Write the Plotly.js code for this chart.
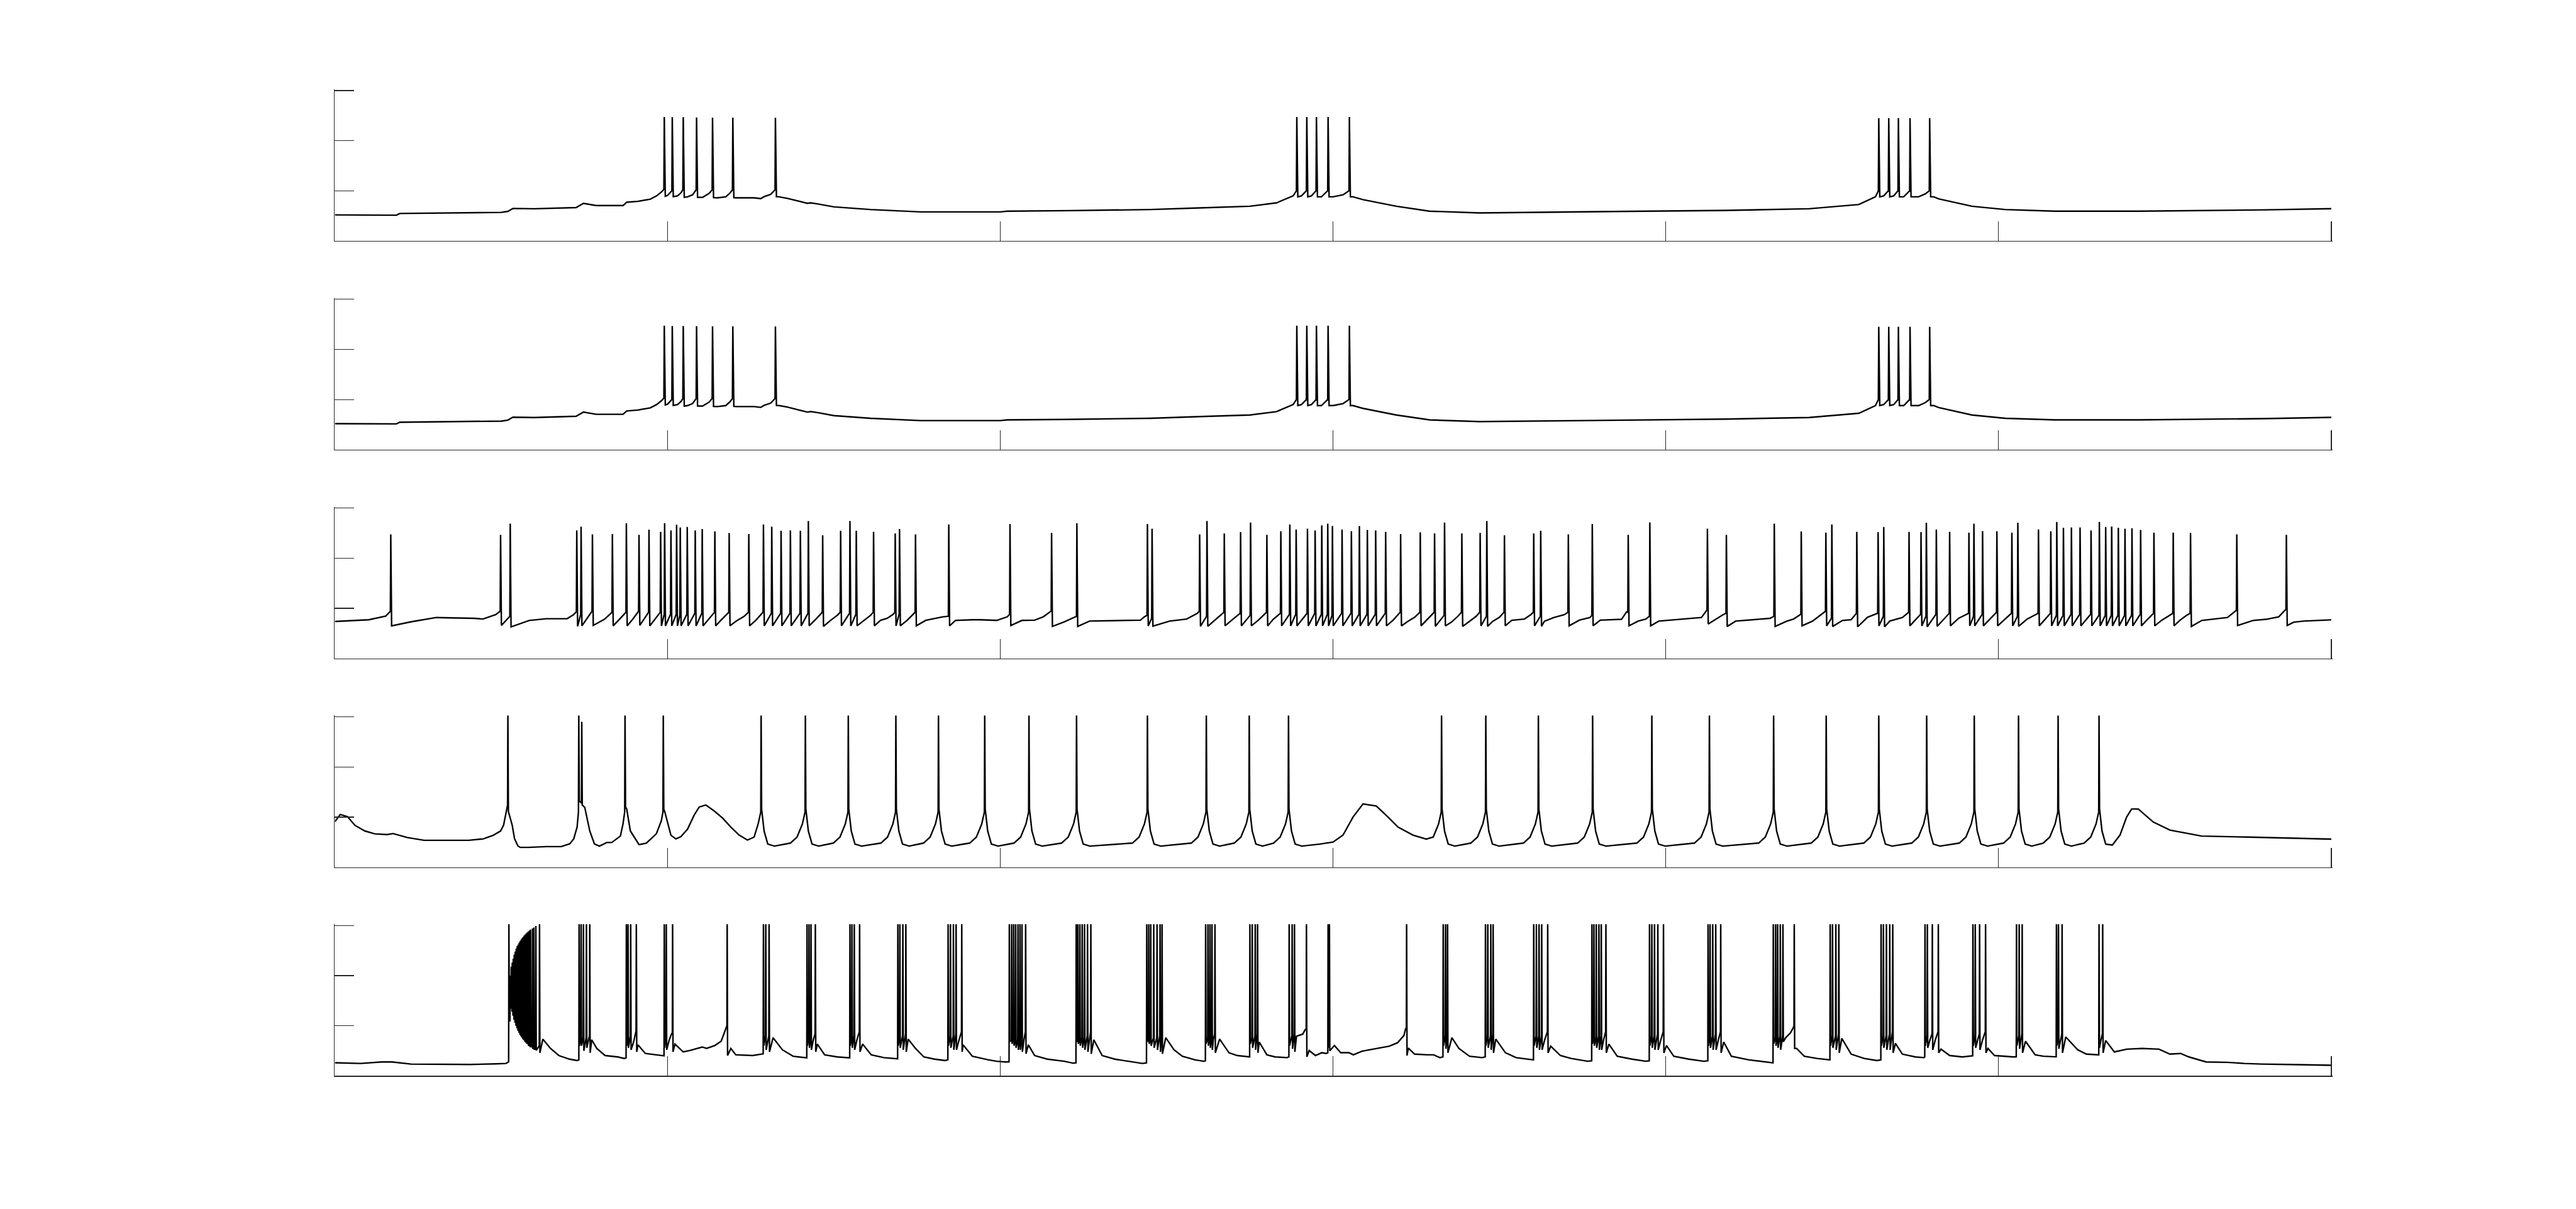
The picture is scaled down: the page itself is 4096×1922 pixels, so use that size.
<!DOCTYPE html>
<html>
<head>
<meta charset="utf-8">
<script src="https://cdn.plot.ly/plotly-3.0.1.min.js"></script>
<style>html,body{margin:0;padding:0;background:#fff;}#chart{width:4096px;height:1922px;}</style>
</head>
<body>
<div id="chart"></div>
<script>
// Time axis (s) and voltage axis (mV) ticks
const xTicks = [0, 10, 20, 30, 40, 50, 60];
const yTicks = [-100, -50, 0, 50];

// ---------- Panel 1 : subthreshold knots [t, v] and spikes [t, foot, peak, trough]
const base1 = [[0,-74],[1.36,-74],[1.85,-74.3],[1.95,-72.6],[3.0,-72.1],[5.0,-71.5],[5.2,-70.5],[5.35,-67.6],[6.0,-67.9],[7.25,-66.7],[7.47,-62.5],[7.85,-64.7],[8.66,-64.7],[8.77,-61.4],[9.1,-60.5],[9.48,-58.3],[9.67,-55],[9.82,-51],
[10.0,-54.5],[10.3,-55],[10.4,-52],[10.6,-56],[10.75,-54],[11.05,-56.5],[11.25,-52.5],[11.5,-57],[11.75,-56],[11.88,-52],[12.05,-57],[12.6,-57],[12.8,-57.8],[12.9,-55.8],[13.1,-53.5],[13.2,-50],
[13.35,-56],[13.6,-57.5],[14.2,-62.5],[14.3,-62],[14.5,-63],[15.0,-66],[16.1,-68.7],[17.6,-71],[20.0,-71],[20.2,-70.3],[22,-69.8],[24.5,-68.7],[26,-67],[27.5,-65.4],[28.3,-62],[28.8,-55],
[29.05,-55],[29.35,-55],[29.65,-56],[30.0,-56],[30.3,-54],
[30.6,-56],[30.9,-58.8],[31.9,-65.4],[32.9,-70.3],[34.4,-72],[36.9,-71],[39.3,-70.3],[41.8,-69.5],[44.3,-67.9],[45.8,-63.7],[46.3,-56],
[46.55,-55],[46.85,-55],[47.15,-56],[47.6,-56],[47.8,-53],
[48.05,-56],[48.2,-58],[49.2,-65.4],[50.2,-68.7],[51.7,-70.3],[54.2,-70.3],[56.6,-69.5],[58,-69],[60,-67.8]];
const spikes1 = [[9.90,-48.5,23.6,-55.4],[10.14,-50,23.4,-55.8],[10.47,-49,23.4,-56.5],[10.87,-49,23.2,-56.5],[11.35,-49,23.0,-56.8],[11.96,-49,23.0,-56.8],[13.24,-49,22.9,-55.8],
[28.91,-50,23.6,-56],[29.21,-50,23.6,-56],[29.50,-50,23.6,-56],[29.85,-50,23.6,-56],[30.49,-50,23.6,-56],
[46.40,-50,22.5,-56],[46.70,-50,22.5,-56],[46.99,-50,22.5,-56],[47.34,-50,22.5,-56],[47.93,-50,22.5,-56]];

// ---------- Panel 2 (same recording shape as panel 1)
const base2 = base1;
const spikes2 = spikes1;

// ---------- Panel 3
const base3 = [[0,-63.2],[1.02,-61.4],[1.53,-57.8],
[2.29,-63.5],[3.05,-59.2],[4.19,-60],[4.45,-60.7],[4.83,-56.4],
[5.84,-62.1],[6.35,-60.4],[6.98,-60.4],[7.17,-56.4],
[8.1,-61],[8.55,-61],[8.95,-61],
[11.6,-62],[12.05,-63],[12.3,-58],[12.65,-62],
[14.45,-61],[14.9,-62],[15.1,-57],[15.9,-62],[16.1,-57],[16.4,-62],[16.6,-60],[16.78,-56],[17.2,-62],
[17.76,-62],[17.89,-61],[18.02,-60],[18.27,-58.5],
[18.65,-62.1],[19.16,-61.4],[19.39,-61.4],[19.89,-62.1],[20.21,-58.5],
[20.65,-62.1],[21.03,-61.8],[21.29,-58.5],
[21.92,-63.5],
[22.68,-62.8],[24.21,-61.8],[24.33,-58.5],
[25.09,-62.8],[25.6,-60.7],[25.92,-55],
[26.45,-62],[26.95,-62],[27.75,-62],[28.2,-61],
[31.8,-62],[32.25,-63],[32.45,-59],[32.8,-62],
[33.55,-64],[33.75,-58],[34.1,-63],[34.3,-58],[34.8,-63],[35.0,-59],
[35.37,-62],[35.75,-60.7],[35.94,-56.4],
[36.35,-63],[36.64,-59.2],[36.95,-56.4],
[37.4,-61.8],[37.72,-59.2],
[38.03,-61.8],[38.67,-61],[38.82,-53.5],
[39.17,-62.8],[39.4,-60.7],
[39.79,-62.8],[40.56,-60.7],[41.07,-59.2],[41.23,-52.1],
[41.72,-56.4],
[42.1,-62.8],[43.13,-60],
[43.64,-62.8],[43.84,-60.7],
[44.41,-62.8],[44.77,-53.5],
[45.31,-62.1],[45.57,-61.4],[45.7,-56.4],
[46.06,-59],
[46.73,-62.8],[47.11,-59.2],
[48.8,-60],
[50.85,-61],
[54.45,-62],[54.9,-62],[55.1,-58],[55.45,-62],[55.65,-57],
[56.11,-62.1],[56.88,-59.2],[57.11,-53.2],
[57.65,-62.1],[58.04,-61],[58.42,-58.5],[58.61,-51.4],
[58.87,-63.9],[59.17,-62.8],[60,-61.5]];
const spikes3 = [[1.68,-53,23.7,-67.5],[4.98,-53,23.3,-67.1],[5.27,-58,34.4,-68.5],[7.27,-53.5,27.7,-68],[7.40,-56,31.4,-67.5],[7.74,-53,23.7,-67.1],[8.34,-54,24.1,-67.5],[8.76,-54,34.8,-67.5],[9.14,-53,23.3,-67],[9.44,-54,28.4,-67.5],
[9.79,-54,26.3,-67.5],[9.91,-56,34.8,-67.5],[10.10,-56,27.7,-67.5],[10.27,-56,33.3,-67.5],[10.38,-57,30.7,-67.5],[10.59,-56,31.1,-67.5],[10.83,-55,27.7,-67.5],[11.04,-55,29.0,-67.5],[11.42,-54,26.7,-67.5],[11.85,-54,25.1,-67.5],
[12.44,-54,24.1,-67.5],[12.88,-54,33.6,-67.5],[13.13,-55,31.4,-67.5],[13.41,-55,27.3,-67.5],[13.69,-55,27.7,-67.5],[13.99,-55,27.3,-67.5],[14.23,-55,37.0,-67.5],[14.66,-54,22.8,-68],[15.20,-54,27.3,-67.5],[15.48,-55,37.0,-67.5],
[15.67,-56,27.3,-67.5],[16.19,-54,26.3,-67.5],[16.84,-54,24.7,-67.5],[16.97,-56,29.0,-67.5],[17.45,-54,23.7,-67.5],[18.45,-58,33.6,-67.5],
[20.29,-56,34.0,-67.1],[21.54,-52.8,25.1,-68.1],[22.30,-58,34.8,-68.1],[24.42,-57,34.0,-67.5],[24.56,-60,29.4,-67.8],[25.99,-53,23.7,-68],[26.21,-58,37.0,-68],[26.73,-54,24.7,-67.5],[27.22,-55,26.0,-67.5],[27.52,-57,35.5,-67.5],
[28.01,-54,23.3,-67.5],[28.43,-55,26.8,-67.5],[28.70,-56,33.6,-67.5],[28.89,-56,28.6,-67.5],[29.23,-55,29.4,-67.5],[29.46,-55,27.7,-67.5],[29.66,-56,32.7,-67.5],[29.84,-56,34.4,-67.5],[29.98,-57,32.0,-67.5],[30.27,-55,28.6,-67.5],
[30.55,-55,26.8,-67.5],[30.79,-56,32.0,-67.5],[31.03,-56,28.1,-67.5],[31.28,-56,27.7,-67.5],[31.58,-55,26.3,-67.5],[32.03,-54,24.1,-67.5],[32.62,-54,25.8,-67.5],[33.05,-54,24.7,-68],[33.35,-57,35.5,-67.5],[33.87,-54,24.7,-68],
[34.42,-54,25.1,-67.5],[34.62,-58,37.0,-68],[35.15,-54,22.8,-67.5],[36.03,-54,24.7,-67.5],[36.24,-58,27.3,-68],[37.07,-54,23.7,-67.5],[37.79,-57,34.0,-67.5],[38.87,-54,23.3,-67.5],
[39.52,-58,35.7,-67.5],[41.25,-52,29.4,-65.7],[41.82,-55,23.3,-68.1],[43.26,-58,34.4,-68.1],[44.07,-56,26.7,-67.5],[44.81,-53,25.4,-67.5],[44.99,-60,33.6,-68.1],[45.74,-55,26.3,-68.5],[46.38,-55,26.0,-67.5],[46.55,-58,31.1,-68.5],
[47.31,-54,26.3,-67.5],[47.67,-56,26.0,-67.5],[47.83,-58,35.3,-68.5],[48.13,-56,28.6,-68],[48.53,-55,26.3,-67.5],[49.11,-55,25.5,-67.5],[49.26,-58,34.4,-67.5],[49.52,-56,27.0,-67.5],[49.95,-54,26.8,-67.5],[50.40,-55,25.5,-67.5],
[50.58,-58,35.3,-68],[51.20,-55,28.6,-67.5],[51.57,-55,26.8,-67.5],[51.75,-57,36.1,-67.5],[51.95,-57,30.3,-67.5],[52.19,-56,30.7,-67.5],[52.45,-56,30.7,-67.5],[52.78,-56,27.7,-67.5],[53.03,-57,36.1,-67.5],[53.22,-57,31.1,-67.5],
[53.40,-57,31.6,-67.5],[53.60,-57,30.3,-67.5],[53.80,-57,29.4,-67.5],[54.01,-57,29.8,-67.5],[54.27,-56,28.1,-67.5],[54.67,-55,25.4,-67.5],[55.25,-55,25.4,-67.5],[55.77,-55,25.1,-68.1],[57.16,-52,23.7,-67.1],[58.65,-51,23.3,-67.1]];

// ---------- Panel 4
const base4 = [[0,-54.7],[0.16,-47.5],[0.38,-49.6],[0.6,-58.2],[0.9,-63.9],[1.2,-66.8],[1.57,-67.5],[1.75,-66.5],[2.17,-70.4],[2.68,-73.2],[4.02,-73.2],[4.46,-71.8],[4.76,-68.2],[4.98,-63.9],[5.07,-58.2],[5.13,-48],
[5.33,-58.2],[5.4,-71.7],[5.5,-78.8],[5.57,-80.3],[5.82,-80.3],[6.35,-79.5],[6.8,-79.5],[7.06,-76.7],[7.18,-71.7],[7.28,-60],
[7.51,-40.4],[7.66,-63.9],[7.8,-76.8],[7.95,-79],[8.17,-75.4],[8.32,-75.4],[8.58,-69],[8.66,-56.8],
[8.77,-41.9],[8.88,-63.9],[9.14,-77.5],[9.36,-76.1],[9.66,-66.8],[9.81,-54],
[9.92,-45.4],[10.1,-68.2],[10.25,-71.8],[10.4,-69.6],
[10.6,-62],[10.8,-48],[10.95,-40],[11.15,-38],[11.4,-44],[11.65,-51],[11.9,-60],[12.15,-68],[12.4,-73],[12.6,-70],[12.72,-57],
[12.9,-64],[13.01,-77],[13.21,-79],
[13.69,-76],[13.89,-70],[14.05,-57],[14.23,-64],[14.34,-77],[14.54,-79],
[14.98,-76],[15.18,-70],[15.34,-57],[15.52,-64],[15.63,-77],[15.83,-79],
[16.41,-76],[16.61,-70],[16.77,-57],[16.95,-64],[17.06,-77],[17.26,-79],
[17.69,-76],[17.89,-70],[18.05,-57],[18.23,-64],[18.34,-77],[18.54,-79],
[19.08,-76],[19.28,-70],[19.44,-57],[19.62,-64],[19.73,-77],[19.93,-79],
[20.41,-76],[20.61,-70],[20.77,-57],[20.95,-64],[21.06,-77],[21.26,-79],
[21.84,-76],[22.04,-70],[22.20,-57],[22.38,-64],[22.49,-77],[22.69,-79],
[23.97,-76],[24.17,-70],[24.33,-57],[24.51,-64],[24.62,-77],[24.82,-79],
[25.74,-76],[25.94,-70],[26.10,-57],[26.28,-64],[26.39,-77],[26.59,-79],
[27.03,-76],[27.23,-70],[27.39,-57],[27.57,-64],[27.68,-77],[27.88,-79],
[28.21,-76],[28.41,-70],[28.57,-57],[28.75,-64],[28.86,-77],[29.06,-79],
[29.6,-77],[30.0,-75],[30.3,-68],[30.6,-50],[30.9,-37],[31.3,-39],[31.65,-50],[31.95,-60],[32.4,-68],[32.8,-72],
[33.01,-70],[33.17,-57],[33.35,-64],[33.46,-77],[33.66,-79],
[34.14,-76],[34.34,-70],[34.50,-57],[34.68,-64],[34.79,-77],[34.99,-79],
[35.72,-76],[35.92,-70],[36.08,-57],[36.26,-64],[36.37,-77],[36.57,-79],
[37.35,-76],[37.55,-70],[37.71,-57],[37.89,-64],[38.00,-77],[38.20,-79],
[39.13,-76],[39.33,-70],[39.49,-57],[39.67,-64],[39.78,-77],[39.98,-79],
[40.86,-76],[41.06,-70],[41.22,-57],[41.40,-64],[41.51,-77],[41.71,-79],
[42.79,-76],[42.99,-70],[43.15,-57],[43.33,-64],[43.44,-77],[43.64,-79],
[44.37,-76],[44.57,-70],[44.73,-57],[44.91,-64],[45.02,-77],[45.22,-79],
[45.95,-76],[46.15,-70],[46.31,-57],[46.49,-64],[46.60,-77],[46.80,-79],
[47.39,-76],[47.59,-70],[47.75,-57],[47.93,-64],[48.04,-77],[48.24,-79],
[48.82,-76],[49.02,-70],[49.18,-57],[49.36,-64],[49.47,-77],[49.67,-79],
[50.15,-76],[50.35,-70],[50.51,-57],[50.69,-64],[50.80,-77],[51.00,-79],
[51.34,-76],[51.54,-70],[51.70,-57],[51.88,-64],[51.99,-77],[52.19,-79],
[52.57,-76],[52.77,-70],[52.93,-57],[53.11,-64],[53.22,-77],[53.42,-78],
[53.65,-68],[53.85,-50],[54.0,-42],[54.2,-42],[54.65,-55],[55.15,-63],[56.1,-69],[57.5,-70],[59,-71],[60,-72]];
const spikes4 = [[5.20,-38,55,-44.5],[7.33,-45,55,-34],[7.42,-36,45,-38],[8.72,-45,55,-40],[9.87,-45,55,-42],[12.81,-45,55,-42],[14.14,-45,55,-42],[15.43,-45,55,-42],[16.86,-45,55,-42],[18.14,-45,55,-42],
[19.53,-45,55,-42],[20.86,-45,55,-42],[22.29,-45,55,-42],[24.42,-45,55,-42],[26.19,-45,55,-42],[27.48,-45,55,-42],[28.66,-45,55,-42],[33.26,-45,55,-42],[34.59,-45,55,-42],[36.17,-45,55,-42],
[37.80,-45,55,-42],[39.58,-45,55,-42],[41.31,-45,55,-42],[43.24,-45,55,-42],[44.82,-45,55,-42],[46.40,-45,55,-42],[47.84,-45,55,-42],[49.27,-45,55,-42],[50.60,-45,55,-42],[51.79,-45,55,-42],[53.02,-45,55,-42]];

// ---------- Panel 5
const base5 = [[0,-86.9],[0.77,-87.6],[1.4,-86.1],[1.72,-86.1],[2.29,-88.2],[3.3,-88.6],[4.07,-88.6],[4.83,-88],[5.14,-87.6],
[6.25,-63.3],[6.48,-72.6],[6.73,-79.7],[7.05,-83.3],[7.28,-84.7],
[7.72,-64],[7.87,-72.6],[8.12,-79.7],[8.5,-81.1],[8.7,-82.6],
[8.98,-66],[9.04,-56],
[9.11,-69],[9.33,-77.6],[9.65,-79],[9.84,-79.7],
[10.05,-64],[10.12,-58],
[10.22,-68.3],[10.47,-76.1],[10.66,-74.7],[11.04,-71.2],[11.17,-72.6],[11.42,-69.7],[11.61,-65.4],[11.74,-54],
[11.9,-72.6],[12.05,-79],[12.56,-79.7],[12.82,-78.3],
[13.17,-61.9],[13.45,-74],[13.77,-80.4],[14.09,-81.8],
[14.38,-64],
[14.5,-68.3],[14.72,-79],[15.1,-81.1],[15.42,-81.8],
[15.69,-64],
[15.86,-68.3],[16.12,-79],[16.5,-81.8],[16.81,-82.6],
[17.23,-63.3],[17.45,-72.6],[17.7,-81.1],[18.02,-83.3],[18.34,-84.7],
[18.76,-64],
[18.88,-69],[19.16,-80.4],[19.64,-84],[19.89,-85.4],[20.15,-86.1],
[20.71,-64],
[20.84,-69],[21.03,-79.7],[21.41,-83.3],[21.92,-85.4],[22.18,-87.3],
[22.81,-64],[23.06,-79.7],[23.44,-83.3],[23.95,-86.1],[24.27,-87.6],
[24.97,-61.9],[25.22,-74],[25.47,-80.4],[25.85,-84],[26.11,-85.4],
[26.40,-64],
[26.59,-63.3],[26.87,-76.9],[27.12,-79.7],[27.44,-81.1],
[27.78,-66.2],[28.01,-79],[28.26,-81.1],[28.62,-81.8],
[28.9,-60.4],[29.09,-58.3],[29.16,-54],
[29.28,-74.7],[29.47,-79.7],[29.66,-76.9],[29.79,-77.6],
[30.04,-69.7],[30.23,-76.9],[30.48,-76.9],[30.61,-79],[30.87,-75.4],[31.31,-72.6],[31.69,-70.4],[31.94,-66.9],[32.13,-59.7],[32.18,-53],
[32.26,-72.3],[32.45,-78.3],[32.83,-79],[33.02,-79],[33.21,-81.8],
[33.57,-61.9],[33.78,-72.6],[34.1,-80.4],[34.48,-81.8],
[34.89,-63.3],[35.18,-76.9],[35.5,-81.8],[35.94,-84],
[36.36,-64],
[36.54,-70.4],[36.83,-79.7],[37.15,-82.6],[37.65,-85.4],
[38.13,-64],
[38.29,-68.3],[38.54,-80.4],[38.98,-83.3],[39.28,-84.7],[39.4,-85.4],
[39.85,-64],
[40.02,-69.7],[40.24,-80.4],[40.69,-83.3],[41.14,-85.4],
[41.58,-64],
[41.74,-66.2],[41.97,-80.4],[42.49,-84],[43.13,-86.9],
[43.6,-62],[43.75,-57],[43.83,-52],
[43.93,-72.6],[44.16,-80.4],[44.54,-82.6],[44.86,-84],
[45.29,-62.6],[45.57,-78.3],[45.96,-82.6],[46.34,-84.7],
[46.9,-67.6],[47.11,-78.3],[47.5,-81.1],[47.76,-81.8],
[47.94,-64],[48.10,-64],
[48.27,-73.3],[48.53,-79.7],[48.91,-81.1],[49.17,-80.4],
[49.37,-64],[49.52,-64],
[49.68,-72.6],[49.88,-79.7],[50.45,-81.1],
[50.81,-65.4],[51.1,-79],[51.35,-80.4],[51.68,-81.1],
[52.02,-61.2],[52.38,-74],[52.64,-78.3],[52.9,-79],
[53.08,-64],
[53.22,-64.7],[53.48,-76.1],[53.86,-73.3],[54.31,-72.6],[54.82,-73.3],[55.15,-78.3],[55.47,-77.6],[55.72,-81.1],[56.24,-86.1],[56.88,-86.5],[57.39,-87.6],[57.91,-88.2],[58.68,-88.6],[59.17,-89],[60,-89.4]];
const spikes5 = [[5.23,-86,55,-45],
[5.27,-45,0,-33],[5.30,-33,9,-36],[5.33,-36,13,-40],[5.36,-40,17,-44],[5.39,-44,21,-47],[5.42,-47,24,-50],[5.45,-50,27,-52.5],[5.48,-52.5,29.5,-55],[5.51,-55,31,-57],[5.54,-57,33,-59],[5.57,-59,34.5,-60.5],[5.60,-60.5,36,-62],[5.63,-62,37.5,-63.5],[5.66,-63.5,38.5,-64.5],[5.69,-64.5,40,-66],[5.72,-66,41,-67],[5.75,-67,42,-68],[5.78,-68,43,-68.5],[5.81,-68.5,44,-69.5],[5.85,-69.5,45,-70.5],[5.88,-70.5,46,-71],[5.94,-71,47,-72.5],[5.98,-72.5,48,-73.5],[6.04,-73.5,49.5,-74.5],[6.15,-70,55,-77],
[7.34,-84,55,-70],[7.40,-62,55,-70],[7.47,-62,55,-75],[7.56,-62,55,-72],[7.66,-60,55,-77],
[8.76,-82,55,-70],[8.81,-62,55,-72],[8.89,-60,55,-74],[9.06,-55,55,-76],
[9.90,-80,55,-72],[9.96,-60,55,-74],[10.15,-57,55,-76],
[11.79,-50,55,-79.7],
[12.88,-78,55,-70],[12.95,-60,55,-74],[13.05,-60,55,-76],
[14.19,-82,55,-70],[14.25,-60,55,-72],[14.31,-60,55,-74],[14.44,-58,55,-76],
[15.48,-82,55,-70],[15.54,-60,55,-72],[15.61,-60,55,-74],[15.77,-56,55,-76],
[16.92,-83,55,-70],[16.98,-60,55,-72],[17.07,-60,55,-74],[17.16,-58,55,-76],
[18.43,-84,55,-70],[18.50,-60,55,-72],[18.59,-60,55,-74],[18.67,-58,55,-74],[18.84,-56,55,-76],
[20.27,-86,55,-66],[20.34,-64,52,-68],[20.40,-64,52,-70],[20.46,-64,52,-72],[20.53,-64,52,-74],[20.59,-62,52,-74],[20.65,-60,55,-76],[20.76,-56,55,-78],
[22.28,-87,55,-66],[22.33,-64,52,-68],[22.39,-64,52,-70],[22.46,-62,52,-72],[22.53,-62,55,-74],[22.62,-60,55,-76],[22.72,-56,55,-78],
[24.40,-87,55,-66],[24.46,-64,52,-68],[24.52,-64,52,-70],[24.61,-62,52,-72],[24.71,-62,55,-74],[24.80,-60,55,-76],[24.86,-58,55,-78],
[26.17,-85,55,-68],[26.24,-62,55,-70],[26.30,-62,55,-72],[26.36,-60,55,-74],[26.45,-58,55,-77],
[27.50,-81,55,-68],[27.57,-62,55,-72],[27.66,-60,55,-74],[27.73,-58,55,-77],
[28.68,-81,55,-70],[28.77,-60,55,-73],[28.84,-58,55,-76],
[29.20,-53,55,-81],
[29.85,-77,55,-72],[29.89,-62,55,-75],
[32.21,-53,55,-79.7],
[33.31,-81,55,-70],[33.38,-60,55,-73],[33.44,-58,55,-77],
[34.58,-81,55,-70],[34.65,-60,55,-72],[34.74,-60,55,-74],[34.81,-58,55,-77],
[36.03,-84,55,-70],[36.11,-60,55,-72],[36.19,-60,55,-74],[36.27,-60,55,-74],[36.45,-56,55,-77],
[37.78,-85,55,-68],[37.84,-62,55,-70],[37.91,-62,55,-72],[37.99,-60,55,-74],[38.06,-60,55,-74],[38.20,-56,55,-77],
[39.51,-85,55,-70],[39.58,-60,55,-72],[39.66,-60,55,-74],[39.76,-58,55,-74],[39.93,-56,55,-77],
[41.27,-85,55,-70],[41.33,-60,55,-72],[41.41,-60,55,-74],[41.50,-58,55,-74],[41.65,-56,55,-77],
[43.23,-87,55,-68],[43.30,-62,55,-70],[43.36,-62,55,-72],[43.44,-60,55,-74],[43.52,-60,55,-66],[43.86,-50,55,-72.6],
[44.94,-84,55,-70],[45.01,-60,55,-72],[45.11,-60,55,-74],[45.20,-58,55,-77],
[46.47,-84,55,-70],[46.54,-60,55,-72],[46.63,-60,55,-74],[46.73,-58,55,-74],[46.82,-56,55,-77],
[47.79,-81,55,-70],[47.86,-60,55,-72],[48.01,-58,55,-74],[48.19,-56,55,-77],
[49.23,-80,55,-70],[49.30,-60,55,-72],[49.43,-58,55,-74],[49.61,-56,55,-77],
[50.54,-81,55,-70],[50.62,-60,55,-73],[50.71,-58,55,-77],
[51.74,-81,55,-70],[51.80,-60,55,-73],[51.91,-58,55,-77],
[53.02,-79,55,-72],[53.13,-58,55,-77]];

// Merge knots and spikes into one polyline (spike = foot just before, peak, trough just after)
function buildTrace(base, spikes, pre, post) {
  const pts = base.map(p => [p[0], p[1]]);
  spikes.forEach(s => {
    pts.push([s[0] - pre, s[1]]);
    pts.push([s[0], s[2]]);
    pts.push([s[0] + post, s[3]]);
  });
  pts.sort((a, b) => a[0] - b[0]);
  return {x: pts.map(p => p[0]), y: pts.map(p => p[1])};
}

const panels = [
  buildTrace(base1, spikes1, 0.012, 0.03),
  buildTrace(base2, spikes2, 0.012, 0.03),
  buildTrace(base3, spikes3, 0.012, 0.025),
  buildTrace(base4, spikes4, 0.01, 0.015),
  buildTrace(base5, spikes5, 0.008, 0.012)
];

const axisColor = '#262626';
const data = [];
const layout = {
  width: 4096, height: 1922,
  margin: {l: 0, r: 0, t: 0, b: 0},
  paper_bgcolor: '#ffffff', plot_bgcolor: '#ffffff',
  showlegend: false
};
// Panel geometry (fractions of the figure); axes are stretched by ~2 px at the far ends
// so that Plotly keeps the end ticks (it drops ticks within 1 px of an axis end).
const top0 = 0.9251, step = 0.17265, h = 0.1244;
const xL = 0.13, xW = 0.775, ext = 0.04, eyy = 1.3;
panels.forEach((p, i) => {
  const k = i + 1;
  const sfx = k === 1 ? '' : String(k);
  data.push({
    type: 'scatter', mode: 'lines', x: p.x, y: p.y,
    xaxis: 'x' + sfx, yaxis: 'y' + sfx,
    line: {color: '#000000', width: 2.4}, hoverinfo: 'skip'
  });
  const top = top0 - i * step;
  layout['xaxis' + sfx] = {
    domain: [xL, xL + xW + ext * xW / 60], range: [0, 60 + ext], anchor: 'y' + sfx,
    tickmode: 'array', tickvals: xTicks, ticks: 'inside', ticklen: 31, tickwidth: 1.3, tickcolor: axisColor,
    showticklabels: false, showline: true, linecolor: axisColor, linewidth: 1.4,
    showgrid: false, zeroline: false, mirror: false
  };
  layout['yaxis' + sfx] = {
    domain: [top - h, top + eyy * h / 150], range: [-100, 50 + eyy], anchor: 'x' + sfx,
    tickmode: 'array', tickvals: yTicks, ticks: 'inside', ticklen: 31, tickwidth: 1.3, tickcolor: axisColor,
    showticklabels: false, showline: true, linecolor: axisColor, linewidth: 1.4,
    showgrid: false, zeroline: false, mirror: false
  };
});

Plotly.newPlot('chart', data, layout, {displayModeBar: false, staticPlot: true});
</script>
</body>
</html>
